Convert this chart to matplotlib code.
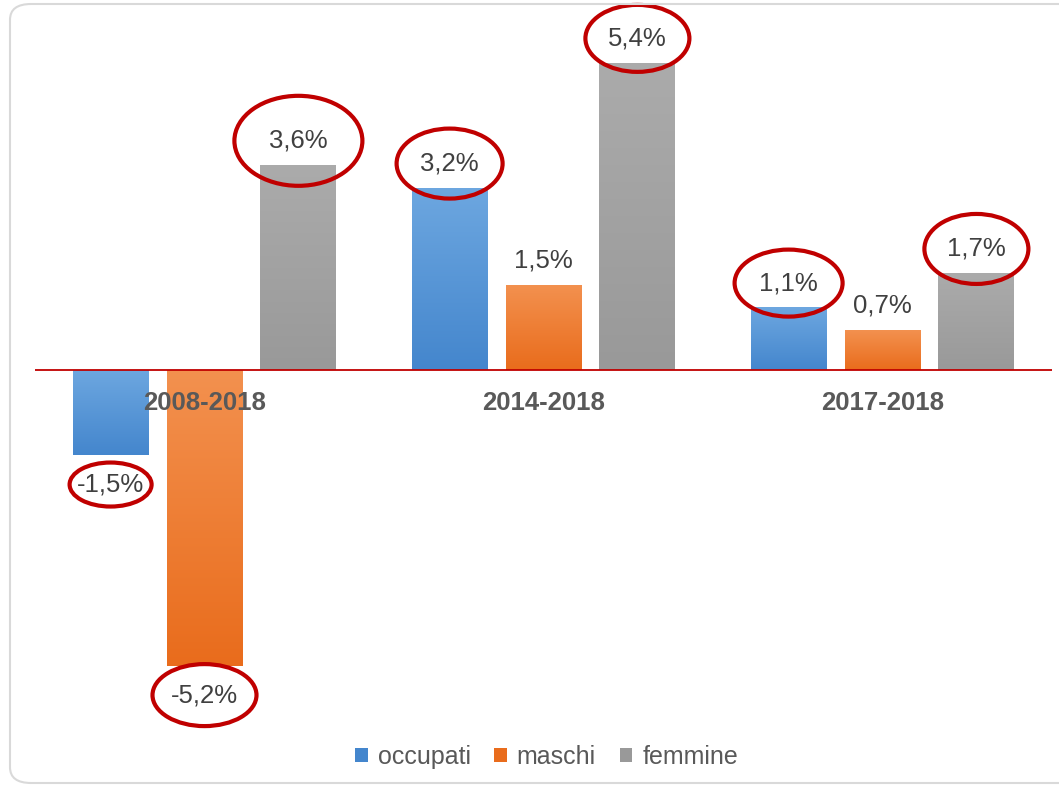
import numpy as np
import matplotlib
matplotlib.use('Agg')
import matplotlib.pyplot as plt
from matplotlib.patches import Ellipse, FancyBboxPatch, Patch
from matplotlib.colors import LinearSegmentedColormap

plt.rcParams['font.family'] = ['Liberation Sans', 'DejaVu Sans']

# dati
periodi = ['2008-2018', '2014-2018', '2017-2018']
serie = ['occupati', 'maschi', 'femmine']
occupati = [-1.5, 3.2, 1.1]
maschi = [-5.2, 1.5, 0.7]
femmine = [3.6, 5.4, 1.7]
# etichette cerchiate in rosso
cerchio_occupati = [True, True, True]
cerchio_maschi = [True, False, False]
cerchio_femmine = [True, True, True]

valori = [occupati, maschi, femmine]
cerchi = [cerchio_occupati, cerchio_maschi, cerchio_femmine]
colori = [('#6DA7E0', '#4486CD'), ('#F3914F', '#E96C1C'), ('#ABABAB', '#999999')]
# dimensioni delle ellissi in pixel (larghezza, altezza)
ellissi = [[(82, 44), (106, 70), (108, 67)],
           [(104, 62), None, None],
           [(128, 90), (104, 67), (104, 70)]]

W, H = 1059, 787
fig = plt.figure(figsize=(W / 100, H / 100), dpi=100)
ax = fig.add_axes([35 / W, 67 / H, 1017 / W, 700 / H])
ax.set_xlim(-0.5, 2.5)
ax.set_ylim(-6.15, 6.15)
px_x = 1017 / 3.0
px_y = 700 / 12.3

x = np.arange(len(periodi))
passo = 0.277
larg = 0.224


def barra_sfumata(rect, c_top, c_bot):
    x0, w = rect.get_x(), rect.get_width()
    y0, h = rect.get_y(), rect.get_height()
    lo, hi = min(y0, y0 + h), max(y0, y0 + h)
    cmap = LinearSegmentedColormap.from_list('g', [c_bot, c_top])
    grad = np.linspace(0, 1, 256).reshape(-1, 1)
    im = ax.imshow(grad, cmap=cmap, origin='lower', extent=[x0, x0 + w, lo, hi],
                   aspect='auto', zorder=2, interpolation='bicubic')
    im.set_clip_path(rect)
    rect.set_facecolor('none')


for j, (nome, vals) in enumerate(zip(serie, valori)):
    pos = x + (j - 1) * passo
    bars = ax.bar(pos, vals, width=larg, color=colori[j][0], zorder=2, linewidth=0)
    for b in bars:
        barra_sfumata(b, colori[j][0], colori[j][1])
    for i, v in enumerate(vals):
        off = 17.5 if v > 0 else -21
        ax.annotate(f'{v:.1f}%'.replace('.', ','), (pos[i], v), xytext=(0, off),
                    textcoords='offset points', ha='center', va='center',
                    fontsize=18.5, color='#404040', zorder=5, annotation_clip=False)
        if cerchi[j][i] and ellissi[j][i] is not None:
            ew, eh = ellissi[j][i]
            cy = v + (off / 0.72) / px_y
            ax.add_patch(Ellipse((pos[i], cy), ew / px_x, eh / px_y, fill=False,
                                 edgecolor='#C00000', linewidth=3, zorder=6,
                                 clip_on=False))

ax.axhline(0, color='#C00000', linewidth=1.3, zorder=3)

for i, p in enumerate(periodi):
    ax.annotate(p, (x[i], 0), xytext=(0, -24), textcoords='offset points',
                ha='center', va='center', fontsize=18.5, fontweight='bold',
                color='#595959', zorder=4)

ax.set_xticks([])
ax.set_yticks([])
for s in ax.spines.values():
    s.set_visible(False)

handles = [Patch(facecolor=c[1], edgecolor='none') for c in colori]
fig.legend(handles, serie, loc='center', bbox_to_anchor=(0.516, 1 - 757 / H),
           ncol=3, frameon=False, fontsize=18, handlelength=0.5, handleheight=0.5,
           handletextpad=0.4, columnspacing=0.95, labelcolor='#595959')

# cornice arrotondata
fig.patches.append(FancyBboxPatch((10 / W, 4 / H), 1.1, (779 / H),
                                  boxstyle='round,pad=0,rounding_size=0.02',
                                  transform=fig.transFigure, fill=False,
                                  edgecolor='#D9D9D9', linewidth=1.5))

fig.savefig('out.png', dpi=100)
